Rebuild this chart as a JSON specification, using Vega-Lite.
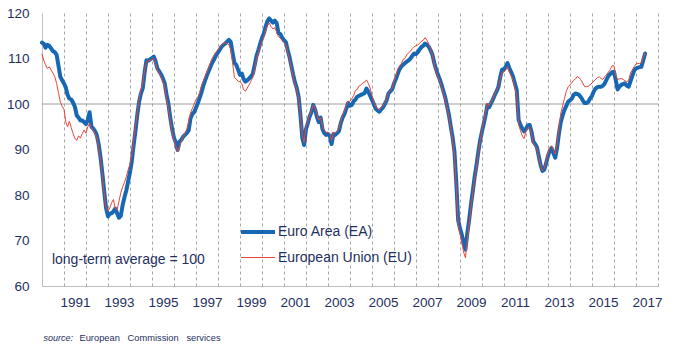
{
"$schema":"https://vega.github.io/schema/vega-lite/v6.json",
"width":616,"height":273,
"autosize":{"type":"none"},
"padding":{"left":42,"top":13,"right":23,"bottom":64},
"background":"white",
"config":{"view":{"stroke":null},"font":"Liberation Sans, Arial"},
"datasets":{"esi":[
{"d":"1990-01","EA":113.5,"EU":111.0},{"d":"1990-02","EA":113.2,"EU":109.5},{"d":"1990-03","EA":112.4,"EU":108.6},{"d":"1990-04","EA":113.0,"EU":107.8},{"d":"1990-05","EA":112.8,"EU":108.2},{"d":"1990-06","EA":112.2,"EU":107.5},{"d":"1990-07","EA":111.6,"EU":106.8},{"d":"1990-08","EA":111.4,"EU":106.0},{"d":"1990-09","EA":110.8,"EU":104.5},{"d":"1990-10","EA":108.5,"EU":102.5},{"d":"1990-11","EA":106.0,"EU":100.5},{"d":"1990-12","EA":105.2,"EU":99.5},
{"d":"1991-01","EA":104.5,"EU":98.8},{"d":"1991-02","EA":103.6,"EU":96.0},{"d":"1991-03","EA":102.0,"EU":95.0},{"d":"1991-04","EA":101.2,"EU":96.2},{"d":"1991-05","EA":101.0,"EU":94.8},{"d":"1991-06","EA":100.3,"EU":93.5},{"d":"1991-07","EA":99.4,"EU":92.5},{"d":"1991-08","EA":97.5,"EU":92.0},{"d":"1991-09","EA":97.0,"EU":93.0},{"d":"1991-10","EA":96.4,"EU":92.5},{"d":"1991-11","EA":96.4,"EU":93.5},{"d":"1991-12","EA":96.0,"EU":94.3},
{"d":"1992-01","EA":95.6,"EU":93.6},{"d":"1992-02","EA":96.5,"EU":95.0},{"d":"1992-03","EA":98.2,"EU":95.8},{"d":"1992-04","EA":95.0,"EU":94.8},{"d":"1992-05","EA":94.6,"EU":94.2},{"d":"1992-06","EA":94.0,"EU":93.5},{"d":"1992-07","EA":93.0,"EU":92.5},{"d":"1992-08","EA":91.0,"EU":90.5},{"d":"1992-09","EA":88.0,"EU":87.5},{"d":"1992-10","EA":84.5,"EU":84.0},{"d":"1992-11","EA":80.5,"EU":80.0},{"d":"1992-12","EA":77.0,"EU":77.0},
{"d":"1993-01","EA":75.3,"EU":76.5},{"d":"1993-02","EA":75.9,"EU":77.2},{"d":"1993-03","EA":76.0,"EU":78.3},{"d":"1993-04","EA":76.4,"EU":79.0},{"d":"1993-05","EA":77.0,"EU":77.0},{"d":"1993-06","EA":76.0,"EU":76.8},{"d":"1993-07","EA":75.0,"EU":78.5},{"d":"1993-08","EA":75.4,"EU":80.5},{"d":"1993-09","EA":77.8,"EU":81.8},{"d":"1993-10","EA":79.5,"EU":82.8},{"d":"1993-11","EA":81.0,"EU":84.0},{"d":"1993-12","EA":83.0,"EU":85.5},
{"d":"1994-01","EA":85.0,"EU":86.8},{"d":"1994-02","EA":87.5,"EU":89.0},{"d":"1994-03","EA":90.8,"EU":91.8},{"d":"1994-04","EA":94.0,"EU":94.8},{"d":"1994-05","EA":97.5,"EU":98.0},{"d":"1994-06","EA":100.5,"EU":101.0},{"d":"1994-07","EA":102.3,"EU":103.0},{"d":"1994-08","EA":103.5,"EU":104.5},{"d":"1994-09","EA":107.0,"EU":107.5},{"d":"1994-10","EA":109.6,"EU":109.3},{"d":"1994-11","EA":109.5,"EU":109.5},{"d":"1994-12","EA":109.8,"EU":109.6},
{"d":"1995-01","EA":110.1,"EU":109.8},{"d":"1995-02","EA":110.4,"EU":110.0},{"d":"1995-03","EA":109.4,"EU":109.0},{"d":"1995-04","EA":107.8,"EU":107.5},{"d":"1995-05","EA":107.2,"EU":106.8},{"d":"1995-06","EA":106.5,"EU":106.0},{"d":"1995-07","EA":105.6,"EU":105.0},{"d":"1995-08","EA":104.5,"EU":103.8},{"d":"1995-09","EA":102.0,"EU":101.2},{"d":"1995-10","EA":100.0,"EU":99.0},{"d":"1995-11","EA":97.0,"EU":96.5},{"d":"1995-12","EA":94.5,"EU":94.0},
{"d":"1996-01","EA":92.6,"EU":92.0},{"d":"1996-02","EA":91.5,"EU":90.8},{"d":"1996-03","EA":89.9,"EU":89.5},{"d":"1996-04","EA":91.7,"EU":90.5},{"d":"1996-05","EA":92.1,"EU":91.8},{"d":"1996-06","EA":92.8,"EU":92.8},{"d":"1996-07","EA":93.2,"EU":93.5},{"d":"1996-08","EA":93.6,"EU":94.5},{"d":"1996-09","EA":94.2,"EU":96.0},{"d":"1996-10","EA":96.8,"EU":98.0},{"d":"1996-11","EA":97.8,"EU":99.0},{"d":"1996-12","EA":98.2,"EU":100.0},
{"d":"1997-01","EA":99.2,"EU":101.0},{"d":"1997-02","EA":100.2,"EU":101.5},{"d":"1997-03","EA":101.3,"EU":102.5},{"d":"1997-04","EA":102.5,"EU":104.0},{"d":"1997-05","EA":104.0,"EU":105.0},{"d":"1997-06","EA":105.2,"EU":106.0},{"d":"1997-07","EA":106.3,"EU":107.0},{"d":"1997-08","EA":107.3,"EU":108.0},{"d":"1997-09","EA":108.3,"EU":109.2},{"d":"1997-10","EA":109.2,"EU":110.2},{"d":"1997-11","EA":109.9,"EU":110.8},{"d":"1997-12","EA":110.8,"EU":111.4},
{"d":"1998-01","EA":111.3,"EU":112.0},{"d":"1998-02","EA":112.0,"EU":112.5},{"d":"1998-03","EA":112.6,"EU":113.0},{"d":"1998-04","EA":113.0,"EU":113.2},{"d":"1998-05","EA":113.3,"EU":113.5},{"d":"1998-06","EA":113.7,"EU":113.3},{"d":"1998-07","EA":114.1,"EU":113.0},{"d":"1998-08","EA":113.6,"EU":112.0},{"d":"1998-09","EA":111.2,"EU":109.0},{"d":"1998-10","EA":109.0,"EU":105.8},{"d":"1998-11","EA":108.6,"EU":105.5},{"d":"1998-12","EA":107.5,"EU":105.0},
{"d":"1999-01","EA":106.4,"EU":104.9},{"d":"1999-02","EA":106.7,"EU":104.5},{"d":"1999-03","EA":105.5,"EU":103.2},{"d":"1999-04","EA":104.9,"EU":102.8},{"d":"1999-05","EA":105.2,"EU":103.5},{"d":"1999-06","EA":105.6,"EU":104.2},{"d":"1999-07","EA":106.0,"EU":105.0},{"d":"1999-08","EA":106.6,"EU":105.8},{"d":"1999-09","EA":108.5,"EU":107.5},{"d":"1999-10","EA":110.5,"EU":109.8},{"d":"1999-11","EA":111.8,"EU":111.2},{"d":"1999-12","EA":113.2,"EU":112.6},
{"d":"2000-01","EA":114.5,"EU":113.8},{"d":"2000-02","EA":115.5,"EU":114.8},{"d":"2000-03","EA":117.0,"EU":116.2},{"d":"2000-04","EA":118.2,"EU":117.2},{"d":"2000-05","EA":118.8,"EU":117.8},{"d":"2000-06","EA":118.3,"EU":117.0},{"d":"2000-07","EA":117.9,"EU":116.5},{"d":"2000-08","EA":118.3,"EU":116.8},{"d":"2000-09","EA":117.8,"EU":115.8},{"d":"2000-10","EA":115.6,"EU":114.8},{"d":"2000-11","EA":115.4,"EU":114.5},{"d":"2000-12","EA":114.6,"EU":114.0},
{"d":"2001-01","EA":114.0,"EU":113.5},{"d":"2001-02","EA":113.6,"EU":113.0},{"d":"2001-03","EA":112.0,"EU":111.5},{"d":"2001-04","EA":110.4,"EU":110.0},{"d":"2001-05","EA":108.5,"EU":108.0},{"d":"2001-06","EA":106.5,"EU":106.0},{"d":"2001-07","EA":104.8,"EU":104.5},{"d":"2001-08","EA":103.5,"EU":103.2},{"d":"2001-09","EA":101.5,"EU":101.2},{"d":"2001-10","EA":97.5,"EU":97.5},{"d":"2001-11","EA":92.5,"EU":93.0},{"d":"2001-12","EA":91.0,"EU":91.5},
{"d":"2002-01","EA":94.5,"EU":95.0},{"d":"2002-02","EA":95.8,"EU":96.2},{"d":"2002-03","EA":97.2,"EU":97.5},{"d":"2002-04","EA":98.2,"EU":98.5},{"d":"2002-05","EA":99.8,"EU":99.8},{"d":"2002-06","EA":98.8,"EU":99.0},{"d":"2002-07","EA":97.2,"EU":97.8},{"d":"2002-08","EA":96.0,"EU":96.5},{"d":"2002-09","EA":97.0,"EU":97.0},{"d":"2002-10","EA":94.5,"EU":95.0},{"d":"2002-11","EA":93.6,"EU":94.2},{"d":"2002-12","EA":93.2,"EU":93.8},
{"d":"2003-01","EA":93.4,"EU":93.8},{"d":"2003-02","EA":93.0,"EU":93.4},{"d":"2003-03","EA":91.2,"EU":92.0},{"d":"2003-04","EA":93.4,"EU":93.8},{"d":"2003-05","EA":93.2,"EU":93.6},{"d":"2003-06","EA":93.6,"EU":94.0},{"d":"2003-07","EA":94.0,"EU":94.6},{"d":"2003-08","EA":95.8,"EU":96.2},{"d":"2003-09","EA":97.0,"EU":97.5},{"d":"2003-10","EA":97.8,"EU":98.5},{"d":"2003-11","EA":99.0,"EU":99.6},{"d":"2003-12","EA":100.2,"EU":100.6},
{"d":"2004-01","EA":99.6,"EU":100.6},{"d":"2004-02","EA":99.8,"EU":101.2},{"d":"2004-03","EA":100.6,"EU":101.8},{"d":"2004-04","EA":101.0,"EU":103.0},{"d":"2004-05","EA":101.6,"EU":103.2},{"d":"2004-06","EA":101.8,"EU":104.0},{"d":"2004-07","EA":102.0,"EU":104.2},{"d":"2004-08","EA":102.2,"EU":104.6},{"d":"2004-09","EA":102.4,"EU":104.8},{"d":"2004-10","EA":103.4,"EU":105.3},{"d":"2004-11","EA":102.7,"EU":104.5},{"d":"2004-12","EA":101.8,"EU":103.5},
{"d":"2005-01","EA":100.9,"EU":101.8},{"d":"2005-02","EA":100.0,"EU":100.5},{"d":"2005-03","EA":99.0,"EU":99.5},{"d":"2005-04","EA":98.6,"EU":99.0},{"d":"2005-05","EA":98.3,"EU":98.7},{"d":"2005-06","EA":98.8,"EU":99.2},{"d":"2005-07","EA":99.2,"EU":99.6},{"d":"2005-08","EA":100.0,"EU":100.3},{"d":"2005-09","EA":100.8,"EU":101.0},{"d":"2005-10","EA":102.3,"EU":102.5},{"d":"2005-11","EA":102.8,"EU":103.0},{"d":"2005-12","EA":103.2,"EU":103.4},
{"d":"2006-01","EA":104.5,"EU":104.9},{"d":"2006-02","EA":105.5,"EU":106.2},{"d":"2006-03","EA":106.5,"EU":107.5},{"d":"2006-04","EA":107.6,"EU":108.3},{"d":"2006-05","EA":108.2,"EU":108.8},{"d":"2006-06","EA":108.6,"EU":109.8},{"d":"2006-07","EA":109.0,"EU":110.0},{"d":"2006-08","EA":109.3,"EU":110.8},{"d":"2006-09","EA":109.6,"EU":111.3},{"d":"2006-10","EA":110.0,"EU":111.6},{"d":"2006-11","EA":110.6,"EU":112.2},{"d":"2006-12","EA":111.1,"EU":112.6},
{"d":"2007-01","EA":111.0,"EU":112.8},{"d":"2007-02","EA":111.4,"EU":113.0},{"d":"2007-03","EA":112.0,"EU":113.3},{"d":"2007-04","EA":112.5,"EU":113.8},{"d":"2007-05","EA":112.8,"EU":114.0},{"d":"2007-06","EA":113.3,"EU":114.6},{"d":"2007-07","EA":113.0,"EU":114.0},{"d":"2007-08","EA":112.6,"EU":113.2},{"d":"2007-09","EA":111.8,"EU":112.2},{"d":"2007-10","EA":110.8,"EU":110.8},{"d":"2007-11","EA":109.0,"EU":108.8},{"d":"2007-12","EA":107.6,"EU":107.2},
{"d":"2008-01","EA":106.4,"EU":106.0},{"d":"2008-02","EA":105.4,"EU":105.0},{"d":"2008-03","EA":104.2,"EU":103.8},{"d":"2008-04","EA":102.8,"EU":102.4},{"d":"2008-05","EA":101.4,"EU":101.0},{"d":"2008-06","EA":99.5,"EU":99.2},{"d":"2008-07","EA":97.6,"EU":97.2},{"d":"2008-08","EA":95.0,"EU":94.6},{"d":"2008-09","EA":92.6,"EU":92.0},{"d":"2008-10","EA":89.5,"EU":88.5},{"d":"2008-11","EA":82.5,"EU":81.5},{"d":"2008-12","EA":74.5,"EU":73.5},
{"d":"2009-01","EA":72.6,"EU":71.5},{"d":"2009-02","EA":71.2,"EU":69.5},{"d":"2009-03","EA":69.4,"EU":67.5},{"d":"2009-04","EA":68.0,"EU":66.2},{"d":"2009-05","EA":71.5,"EU":69.8},{"d":"2009-06","EA":74.5,"EU":73.5},{"d":"2009-07","EA":77.8,"EU":77.0},{"d":"2009-08","EA":80.8,"EU":80.3},{"d":"2009-09","EA":84.0,"EU":83.5},{"d":"2009-10","EA":86.5,"EU":86.2},{"d":"2009-11","EA":89.5,"EU":89.3},{"d":"2009-12","EA":92.0,"EU":91.8},
{"d":"2010-01","EA":94.0,"EU":94.3},{"d":"2010-02","EA":95.8,"EU":96.2},{"d":"2010-03","EA":97.5,"EU":98.0},{"d":"2010-04","EA":99.8,"EU":100.2},{"d":"2010-05","EA":99.3,"EU":99.6},{"d":"2010-06","EA":100.2,"EU":100.5},{"d":"2010-07","EA":101.0,"EU":101.2},{"d":"2010-08","EA":102.0,"EU":102.2},{"d":"2010-09","EA":102.8,"EU":103.0},{"d":"2010-10","EA":103.8,"EU":103.8},{"d":"2010-11","EA":106.0,"EU":105.6},{"d":"2010-12","EA":107.6,"EU":107.0},
{"d":"2011-01","EA":107.6,"EU":107.0},{"d":"2011-02","EA":108.2,"EU":107.6},{"d":"2011-03","EA":109.0,"EU":108.2},{"d":"2011-04","EA":107.8,"EU":107.0},{"d":"2011-05","EA":107.0,"EU":106.2},{"d":"2011-06","EA":106.0,"EU":105.2},{"d":"2011-07","EA":104.5,"EU":103.6},{"d":"2011-08","EA":103.0,"EU":102.0},{"d":"2011-09","EA":96.5,"EU":95.5},{"d":"2011-10","EA":95.4,"EU":94.2},{"d":"2011-11","EA":94.6,"EU":93.0},{"d":"2011-12","EA":94.0,"EU":92.4},
{"d":"2012-01","EA":94.5,"EU":94.0},{"d":"2012-02","EA":95.3,"EU":94.8},{"d":"2012-03","EA":95.4,"EU":94.8},{"d":"2012-04","EA":94.0,"EU":93.6},{"d":"2012-05","EA":91.8,"EU":91.4},{"d":"2012-06","EA":91.2,"EU":90.8},{"d":"2012-07","EA":90.5,"EU":90.2},{"d":"2012-08","EA":88.5,"EU":88.3},{"d":"2012-09","EA":86.5,"EU":86.5},{"d":"2012-10","EA":85.3,"EU":85.4},{"d":"2012-11","EA":85.6,"EU":85.8},{"d":"2012-12","EA":87.0,"EU":87.4},
{"d":"2013-01","EA":88.6,"EU":89.2},{"d":"2013-02","EA":89.8,"EU":90.5},{"d":"2013-03","EA":90.3,"EU":90.8},{"d":"2013-04","EA":89.2,"EU":90.0},{"d":"2013-05","EA":88.2,"EU":89.0},{"d":"2013-06","EA":90.4,"EU":91.2},{"d":"2013-07","EA":93.5,"EU":94.5},{"d":"2013-08","EA":96.0,"EU":98.0},{"d":"2013-09","EA":97.5,"EU":99.6},{"d":"2013-10","EA":98.7,"EU":101.2},{"d":"2013-11","EA":99.6,"EU":102.8},{"d":"2013-12","EA":100.5,"EU":103.8},
{"d":"2014-01","EA":100.8,"EU":104.2},{"d":"2014-02","EA":101.2,"EU":104.7},{"d":"2014-03","EA":102.0,"EU":105.2},{"d":"2014-04","EA":102.3,"EU":105.5},{"d":"2014-05","EA":102.2,"EU":106.0},{"d":"2014-06","EA":102.0,"EU":105.8},{"d":"2014-07","EA":101.5,"EU":105.3},{"d":"2014-08","EA":100.8,"EU":104.6},{"d":"2014-09","EA":100.2,"EU":103.8},{"d":"2014-10","EA":100.2,"EU":103.8},{"d":"2014-11","EA":100.5,"EU":103.9},{"d":"2014-12","EA":101.2,"EU":104.2},
{"d":"2015-01","EA":101.8,"EU":104.6},{"d":"2015-02","EA":102.8,"EU":105.0},{"d":"2015-03","EA":103.4,"EU":105.4},{"d":"2015-04","EA":103.7,"EU":105.8},{"d":"2015-05","EA":103.8,"EU":106.0},{"d":"2015-06","EA":103.8,"EU":105.6},{"d":"2015-07","EA":104.0,"EU":105.4},{"d":"2015-08","EA":104.5,"EU":106.0},{"d":"2015-09","EA":105.4,"EU":106.5},{"d":"2015-10","EA":106.2,"EU":107.0},{"d":"2015-11","EA":106.6,"EU":107.6},{"d":"2015-12","EA":107.0,"EU":108.4},
{"d":"2016-01","EA":107.1,"EU":108.4},{"d":"2016-02","EA":105.2,"EU":106.2},{"d":"2016-03","EA":103.2,"EU":105.4},{"d":"2016-04","EA":103.8,"EU":105.5},{"d":"2016-05","EA":104.2,"EU":105.6},{"d":"2016-06","EA":104.4,"EU":105.4},{"d":"2016-07","EA":104.5,"EU":105.1},{"d":"2016-08","EA":104.0,"EU":104.9},{"d":"2016-09","EA":103.8,"EU":105.2},{"d":"2016-10","EA":105.0,"EU":106.8},{"d":"2016-11","EA":106.2,"EU":107.5},{"d":"2016-12","EA":107.4,"EU":108.2},
{"d":"2017-01","EA":107.8,"EU":108.8},{"d":"2017-02","EA":108.0,"EU":108.9},{"d":"2017-03","EA":108.1,"EU":108.9},{"d":"2017-04","EA":108.2,"EU":109.0},{"d":"2017-05","EA":109.6,"EU":110.2},{"d":"2017-06","EA":111.1,"EU":111.2}
]},
"layer":[
{"data":{"values":[{"level":100}]},
 "mark":{"type":"rule","color":"#9E9E9E","strokeWidth":1},
 "encoding":{"y":{"field":"level","type":"quantitative","scale":{"domain":[60,120]}}}},
{"data":{"name":"esi"},
 "transform":[{"fold":["EA","EU"],"as":["series","v"]}],
 "mark":{"type":"line","strokeJoin":"round","strokeCap":"round"},
 "encoding":{
  "x":{"field":"d","type":"temporal",
   "scale":{"domain":[{"year":1990,"month":1,"date":1},{"year":2018,"month":1,"date":1}]},
   "axis":{"tickCount":{"interval":"year","step":1},"grid":true,"gridDash":[3,3],"gridColor":"#A6A6A6","gridWidth":1,
    "ticks":false,"domainColor":"#BFBFBF","labelOffset":11,"labelPadding":9,"labelFontSize":13.5,"labelColor":"#1F3060",
    "labelOverlap":false,"labelFlush":false,
    "labelExpr":"year(datum.value) % 2 == 1 ? timeFormat(datum.value, '%Y') : ''",
    "title":"source:","titleFontStyle":"italic","titleFontWeight":"normal","titleFontSize":9,"titleColor":"#1F3060",
    "titleX":1,"titleY":51,"titleAlign":"left","titleBaseline":"middle","titleAnchor":null}},
  "y":{"field":"v","type":"quantitative","scale":{"domain":[60,120]},
   "axis":{"values":[60,70,80,90,100,110,120],"grid":false,"ticks":false,"domainColor":"#BFBFBF","labelPadding":13,
    "labelFontSize":13.5,"labelColor":"#1F3060",
    "title":"European\u00a0\u00a0\u00a0Commission\u00a0\u00a0\u00a0services","titleAngle":0,"titleFontWeight":"normal","titleFontSize":9.3,
    "titleColor":"#1F3060","titleX":37,"titleY":324,"titleAlign":"left","titleBaseline":"middle"}},
  "color":{"field":"series","type":"nominal","scale":{"domain":["EA","EU"],"range":["#1768B2","#E8453C"]},
   "legend":{"orient":"none","legendX":197,"legendY":200,"title":null,"symbolType":"stroke","symbolSize":1156,
    "labelFontSize":14,"labelColor":"#1F3060","labelOffset":1,"rowPadding":0,"padding":0,
    "labelExpr":"datum.value == 'EA' ? 'Euro Area (EA)' : 'European Union (EU)'",
    "encode":{"symbols":{"update":{"strokeWidth":{"signal":"datum.value == 'EA' ? 4 : 1"}}}}}},
  "strokeWidth":{"field":"series","type":"nominal","scale":{"domain":["EA","EU"],"range":[4,1]},"legend":null}
 }},
{"data":{"values":[{}]},
 "mark":{"type":"text","align":"left","baseline":"middle","fontSize":14,"color":"#1F3060"},
 "encoding":{"x":{"datum":{"year":1990,"month":6,"date":15},"type":"temporal"},"y":{"datum":65.7},"text":{"value":"long-term average = 100"}}}
]
}
